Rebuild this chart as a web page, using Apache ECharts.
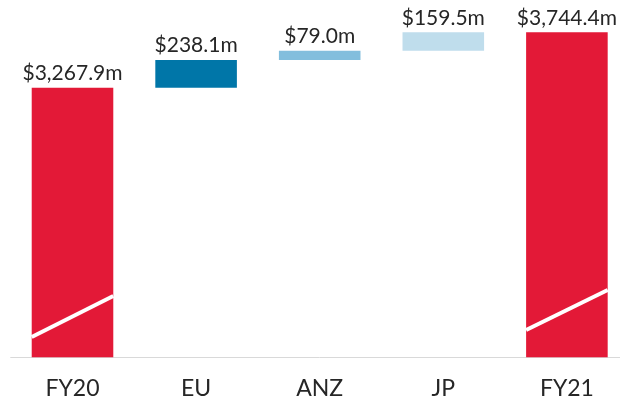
<!DOCTYPE html>
<html>
<head>
<meta charset="utf-8">
<script src="https://cdn.jsdelivr.net/npm/echarts@6/dist/echarts.min.js"></script>
<style>
  html, body { margin: 0; padding: 0; background: #fff; overflow: hidden; }
  /* a bit wider than the window: the axis runs off the right edge like in the original */
  #chart { width: 640px; height: 408px; }
</style>
</head>
<body>
<div id="chart"></div>
<script>
// 数据
var categories = ['FY20', 'EU', 'ANZ', 'JP', 'FY21'];
var values = [3267.9, 238.1, 79.0, 159.5, 3744.4];
var isTotal = [true, false, false, false, true];
var barColors = ['#E31937', '#0076A8', '#82BEDD', '#BFDDEC', '#E31937'];
// axis break marks on the total bars: [category index, value at left edge, value at right edge]
var breakMarks = [[0, 1125, 1477], [4, 1185, 1529]];

// 计算瀑布图的透明底座
var baseData = [];
var running = 0;
for (var i = 0; i < values.length; i++) {
    if (isTotal[i]) {
        baseData.push(0);
        running = values[i];
    } else {
        baseData.push(running);
        running += values[i];
    }
}

function fmt(v) {
    var parts = v.toFixed(1).split('.');
    parts[0] = parts[0].replace(/\B(?=(\d{3})+(?!\d))/g, ',');
    return '$' + parts.join('.') + 'm';
}

var myChart = echarts.init(document.getElementById('chart'));

myChart.setOption({
    animation: false,
    grid: {
        left: 10.7,
        width: 618,
        top: 32.3,
        bottom: 50.7,
        containLabel: false
    },
    xAxis: {
        type: 'category',
        data: categories,
        axisLine: { lineStyle: { color: '#D9D9D9', width: 1 } },
        axisTick: { show: false },
        axisLabel: {
            color: '#262626',
            fontFamily: 'Lato',
            fontSize: 23,
            margin: 20
        }
    },
    yAxis: {
        type: 'value',
        min: 950,
        max: 3744.4,
        show: false,
        splitLine: { show: false }
    },
    series: [
        {
            name: 'base',
            type: 'bar',
            stack: 'wf',
            barWidth: '66%',
            itemStyle: { color: 'transparent' },
            data: baseData,
            silent: true
        },
        {
            name: 'value',
            type: 'bar',
            stack: 'wf',
            barWidth: '66%',
            data: values.map(function (v, i) {
                return { value: v, itemStyle: { color: barColors[i] } };
            }),
            label: {
                show: true,
                position: 'top',
                distance: 4,
                color: '#262626',
                fontFamily: 'Lato',
                fontSize: 21,
                formatter: function (p) { return fmt(p.value); }
            }
        },
        {
            // 断轴标记
            name: 'break',
            type: 'custom',
            silent: true,
            z: 5,
            data: breakMarks,
            renderItem: function (params, api) {
                var idx = api.value(0);
                var size = api.size([1, 0]);
                var w = size[0] * 0.66;
                var c1 = api.coord([idx, api.value(1)]);
                var c2 = api.coord([idx, api.value(2)]);
                return {
                    type: 'line',
                    shape: { x1: c1[0] - w / 2, y1: c1[1], x2: c2[0] + w / 2, y2: c2[1] },
                    style: { stroke: '#fff', lineWidth: 4 }
                };
            },
            encode: { x: 0, y: [1, 2] }
        }
    ]
});
</script>
</body>
</html>
